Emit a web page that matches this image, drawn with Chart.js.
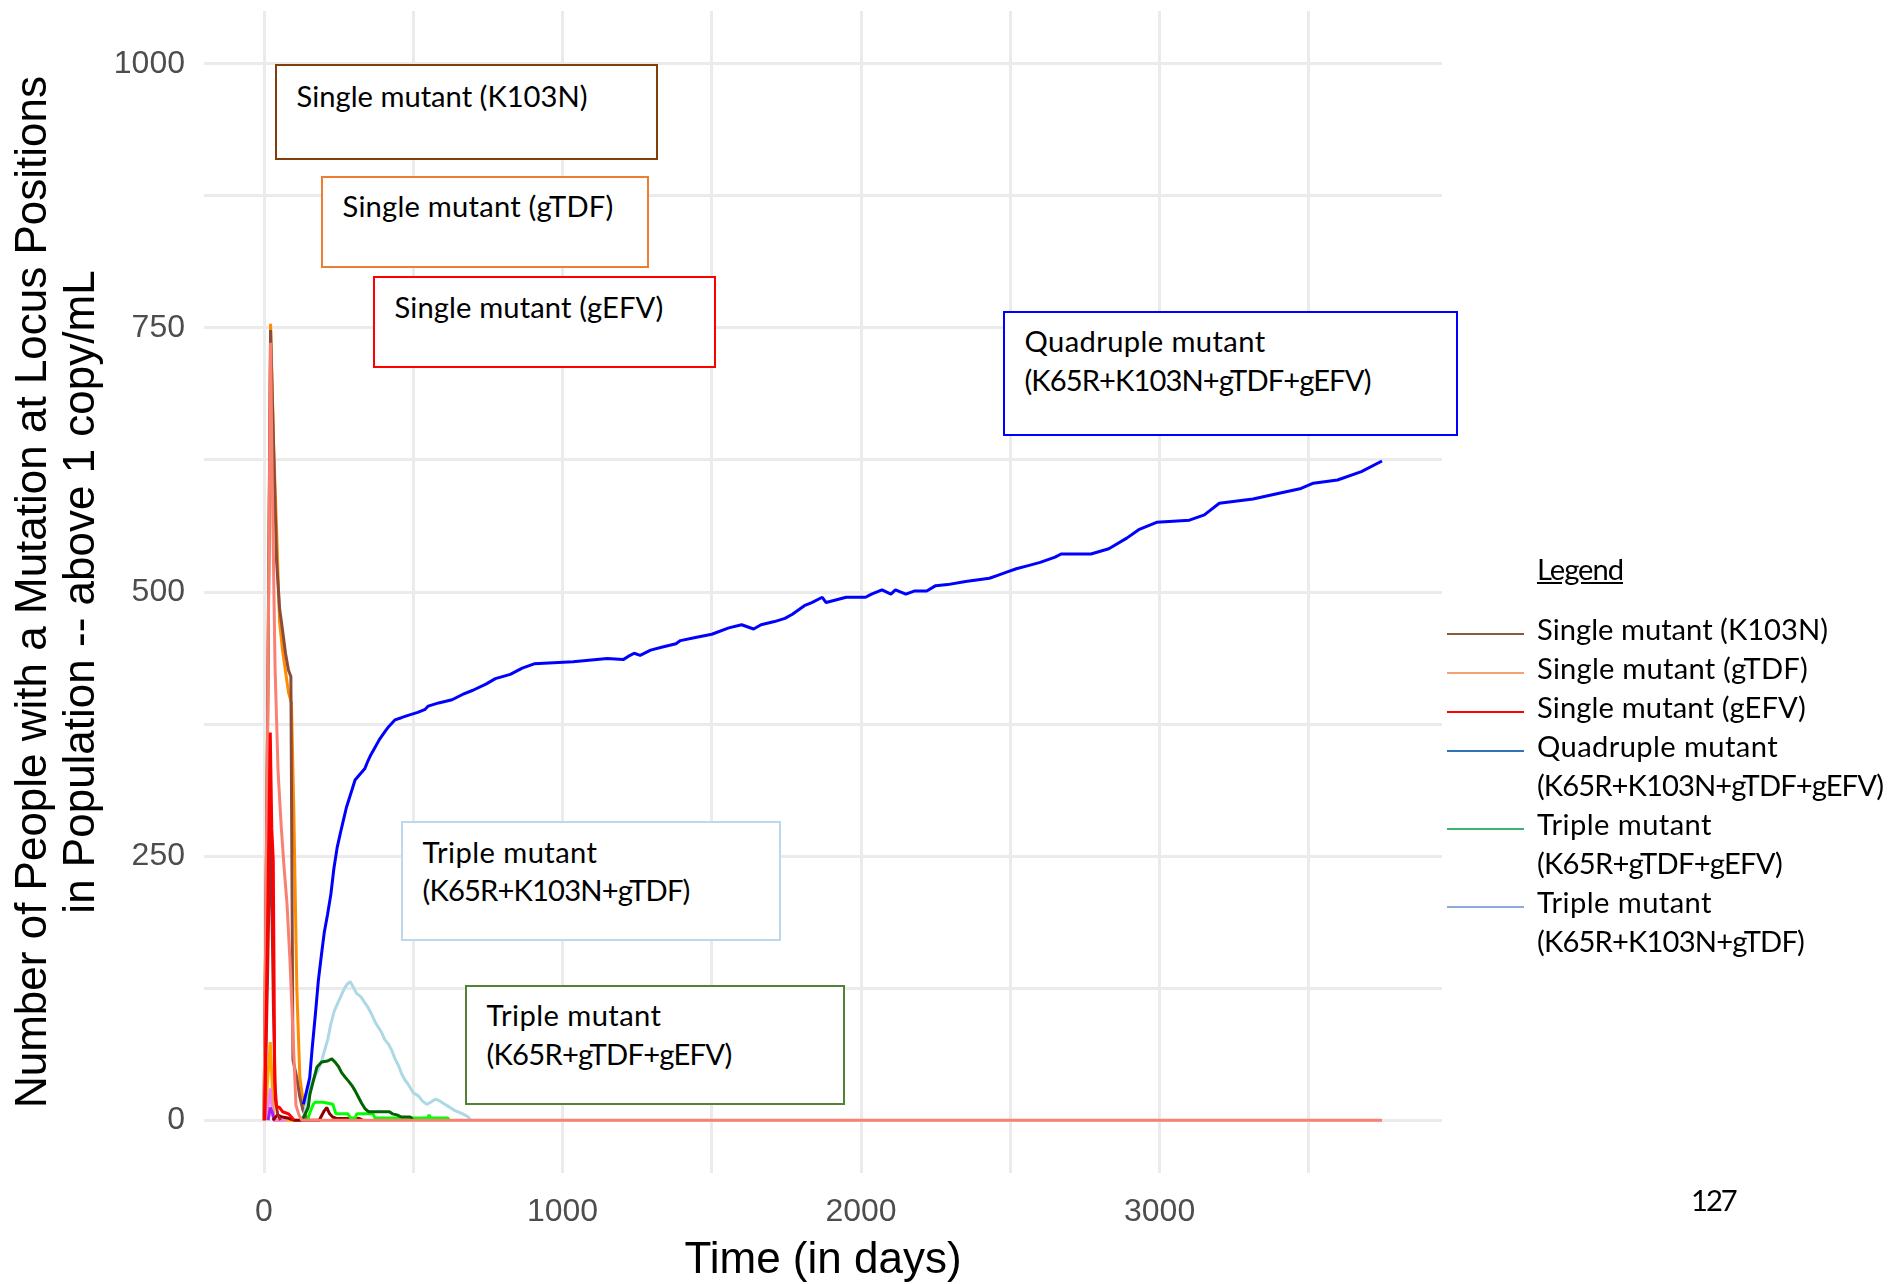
<!DOCTYPE html>
<html><head><meta charset="utf-8">
<script src="https://cdn.jsdelivr.net/npm/chart.js@4.4.1/dist/chart.umd.min.js"></script>
<style>
html,body{margin:0;padding:0;background:#fff;overflow:hidden;}
#wrap{position:relative;width:1889px;height:1284px;}
canvas{position:absolute;left:0;top:0;}
.box{position:absolute;box-sizing:border-box;background:#fff;border:2px solid #000;}
.txt{position:absolute;white-space:pre;color:#000;margin:0;padding:0;}
.swatch{position:absolute;height:2px;}
</style></head><body>
<div id="wrap"><canvas id="c" width="1889" height="1284"></canvas></div>
<script>
// ---------------- DATA ----------------
const xGridValues = [0, 500, 1000, 1500, 2000, 2500, 3000, 3500];
const xLabelValues = [0, 1000, 2000, 3000];
const yGridValues = [0, 125, 250, 375, 500, 625, 750, 875, 1000];
const yLabelValues = [0, 250, 500, 750, 1000];

const quadDays = [132,153,162,172,182,193,202,213,224,234,245,256,266,276,286,295,305,320,338,348,358,368,378,388,398,408,419,429,439,460,480,515,540,550,585,630,665,700,745,775,825,865,905,1035,1150,1203,1220,1240,1260,1295,1335,1380,1395,1445,1500,1557,1600,1640,1665,1710,1745,1770,1790,1810,1835,1870,1883,1950,2015,2035,2070,2100,2115,2150,2180,2220,2250,2290,2350,2430,2460,2490,2520,2560,2600,2650,2670,2770,2830,2890,2930,2990,3100,3150,3200,3313,3393,3474,3515,3596,3676,3745];
const quadCounts = [15,40,70,100,132,158,178,195,214,238,258,272,284,296,305,313,322,327,333,340,346,351,356,361,365,369,373,376,379,381,383,386,389,392,395,398,403,407,413,418,422,428,432,434,437,436,439,442,440,445,448,451,454,457,460,466,469,465,469,472,475,479,483,487,490,495,490,495,495,498,502,498,502,498,501,501,506,507,510,513,516,519,522,525,528,533,536,536,541,551,559,566,568,573,584,588,593,598,603,606,614,624];

const gefvDays = [2, 12, 21, 26, 31, 36, 42, 52, 62, 72, 82, 92, 100];
const gefvCounts = [0, 184, 367, 276, 246, 36, 13, 12, 8, 7, 6, 3, 0];

const firebrickDays = [2, 12, 21, 26, 32, 38, 46, 55];
const firebrickCounts = [0, 140, 276, 211, 100, 20, 5, 0];

const salmonDays = [0, 12, 22, 27, 37, 47, 57, 67, 77, 87, 97, 107, 117, 127, 3745];
const salmonCounts = [0, 368, 736, 617, 429, 331, 281, 240, 205, 151, 82, 14, 5, 0, 0];

const tripleTdfEfvDays = [128,148,154,165,177,193,213,227,238,249,260,271,283,294,305,316,327,338,350,420,430,445,460,490,500];
const tripleTdfEfvCounts = [0,12,25,37,50,55,56,58,55,51,45,41,37,33,28,22,16,11,8,8,6,5,3,3,0];

const tripleK103nDays = [128,134,154,182,193,204,214,223,235,246,257,268,279,289,299,310,324,338,350,361,372,383,394,405,417,428,439,450,461,472,483,500,517,531,545,558,575,590,612,640,666,684,692];
const tripleK103nCounts = [0,4,32,48,56,67,77,90,103,110,117,124,129,131,126,120,117,111,106,100,93,88,83,76,72,66,58,52,44,38,34,26,23,18,15,17,20,18,14,9,6,3,0];

const limeDays = [145,155,165,171,198,231,236,241,281,290,305,311,365,372,432,549,553,558,616,620];
const limeCounts = [0,8,15,17,17,15,10,6,6,2,2,6,6,2,2,2,5,2,2,0];

const darkredDays = [30, 45, 60, 80, 100, 185, 200, 210, 220, 230, 245, 320, 330];
const darkredCounts = [0, 5, 3, 2, 0, 0, 8, 12, 6, 3, 1.5, 1.5, 0];

const purpleDays = [14, 21, 27, 34];
const purpleCounts = [0, 12, 8, 0];

const violetDays = [8, 21, 26, 32, 75];
const violetCounts = [0, 30, 14, 0, 0];

const orangeDays = [2, 12, 21, 27, 33, 130];
const orangeCounts = [0, 37, 74, 36, 0, 0];

const k103nDays = [0, 12, 22, 32, 42, 52, 62, 72, 82, 90, 97, 110, 120, 130, 140, 150];
const k103nCounts = [0, 373, 748, 640, 530, 485, 464, 442, 426, 420, 57, 40, 22, 10, 3, 0];

const gtdfDays = [0, 12, 22, 32, 42, 52, 62, 72, 82, 92, 100, 110, 120, 130, 140, 150];
const gtdfCounts = [0, 378, 754, 640, 560, 472, 445, 425, 405, 395, 290, 124, 41, 20, 5, 0];

const boxTexts = [
  ['Single mutant (K103N)'],
  ['Single mutant (gTDF)'],
  ['Single mutant (gEFV)'],
  ['Quadruple mutant', '(K65R+K103N+gTDF+gEFV)'],
  ['Triple mutant', '(K65R+K103N+gTDF)'],
  ['Triple mutant', '(K65R+gTDF+gEFV)']
];
const legendTitle = 'Legend';
const legendLabels = [
  ['Single mutant (K103N)'],
  ['Single mutant (gTDF)'],
  ['Single mutant (gEFV)'],
  ['Quadruple mutant', '(K65R+K103N+gTDF+gEFV)'],
  ['Triple mutant', '(K65R+gTDF+gEFV)'],
  ['Triple mutant', '(K65R+K103N+gTDF)']
];
const pageNumber = '127';

// ---------------- CHART ----------------
function pts(xs, ys) { return xs.map((x, i) => ({x: x, y: ys[i]})); }
function ds(label, xs, ys, color) {
  return {label: label, data: pts(xs, ys), borderColor: color, backgroundColor: color,
    borderWidth: 3, pointRadius: 0, fill: false, tension: 0, borderJoinStyle: 'bevel'};
}
// index 0 is drawn on top
const datasets = [
  ds('Quadruple', quadDays, quadCounts, '#0000FF'),
  ds('gEFV', gefvDays, gefvCounts, '#FF0000'),
  ds('firebrick', firebrickDays, firebrickCounts, '#B22222'),
  ds('salmon', salmonDays, salmonCounts, '#FA8072'),
  ds('Triple K65R+gTDF+gEFV', tripleTdfEfvDays, tripleTdfEfvCounts, '#006400'),
  ds('Triple K65R+K103N+gTDF', tripleK103nDays, tripleK103nCounts, '#ADD8E6'),
  ds('lime', limeDays, limeCounts, '#00FF00'),
  ds('darkred', darkredDays, darkredCounts, '#8B0000'),
  ds('purple', purpleDays, purpleCounts, '#A020F0'),
  ds('violet', violetDays, violetCounts, '#EE82EE'),
  ds('orange', orangeDays, orangeCounts, '#FFA500'),
  ds('K103N', k103nDays, k103nCounts, '#8B4C39'),
  ds('gTDF', gtdfDays, gtdfCounts, '#FF8C00')
];

const axisFont = {family: "'Liberation Sans', Arial, sans-serif", size: 32};
const titleFamily = "'Liberation Sans', Arial, sans-serif";
new Chart(document.getElementById('c'), {
  type: 'line',
  data: {datasets: datasets},
  options: {
    responsive: false, animation: false, devicePixelRatio: 1,
    layout: {padding: {left: 0, right: 447, top: 11, bottom: 0}},
    plugins: {legend: {display: false}, tooltip: {enabled: false}},
    scales: {
      x: {
        type: 'linear', min: -201, max: 3946,
        afterBuildTicks: a => { a.ticks = xGridValues.map(v => ({value: v})); },
        afterFit: a => { a.height = 111; a.paddingLeft = 0; a.paddingRight = 0; },
        grid: {color: '#EBEBEB', lineWidth: 3, drawTicks: false},
        border: {display: false},
        ticks: {autoSkip: false, maxRotation: 0, padding: 20, color: '#4D4D4D', font: axisFont,
          callback: v => xLabelValues.includes(v) ? String(v) : ''},
        title: {display: true, text: 'Time (in days)', color: '#000',
          font: {family: titleFamily, size: 44, lineHeight: 1.05}, padding: {top: 0, bottom: 0}}
      },
      y: {
        type: 'linear', min: -50, max: 1050,
        afterBuildTicks: a => { a.ticks = yGridValues.map(v => ({value: v})); },
        afterFit: a => { a.width = 204; a.paddingTop = 0; a.paddingBottom = 0; },
        grid: {color: '#EBEBEB', lineWidth: 3, drawTicks: false},
        border: {display: false},
        ticks: {autoSkip: false, padding: 19, color: '#4D4D4D', font: axisFont,
          callback: v => yLabelValues.includes(v) ? String(v) : ''},
        title: {display: true,
          text: ['Number of People with a Mutation at Locus Positions', 'in Population -- above 1 copy/mL'],
          color: '#000', font: {family: titleFamily, size: 44, lineHeight: 48 / 44}, padding: {top: 10, bottom: 0}}
      }
    }
  }
});

// ---------------- OVERLAY TEXT (annotation boxes + legend) ----------------
const wrap = document.getElementById('wrap');
const fam = "Lato, 'Open Sans', sans-serif";
const mc = document.createElement('canvas').getContext('2d');
mc.font = '100px ' + fam;
const S = 100 * 291 / mc.measureText('Single mutant (K103N)').width;
mc.font = S + 'px ' + fam;
const mm = mc.measureText('Hg');
const ASC = mm.fontBoundingBoxAscent, DESC = mm.fontBoundingBoxDescent;
// widths of the strings as measured in the reference (layout only)
const targetWidths = {
  'Single mutant (K103N)': 291, 'Single mutant (gTDF)': 271, 'Single mutant (gEFV)': 269,
  '(K65R+K103N+gTDF+gEFV)': 346, 'Quadruple mutant': 241, 'Triple mutant': 175,
  '(K65R+K103N+gTDF)': 267, '(K65R+gTDF+gEFV)': 245, 'Legend': 86, '127': 44
};

function putText(str, x, baseline, extra) {
  const d = document.createElement('div');
  d.className = 'txt';
  d.textContent = str;
  d.style.font = S + 'px ' + fam;
  d.style.lineHeight = (ASC + DESC) + 'px';
  d.style.left = x + 'px';
  d.style.top = (baseline - ASC) + 'px';
  const tw = targetWidths[str];
  if (tw) {
    const nat = mc.measureText(str).width;
    const ls = (tw - nat) / str.length;
    d.style.letterSpacing = Math.max(-2, Math.min(2, ls)) + 'px';
  }
  if (extra) Object.assign(d.style, extra);
  wrap.appendChild(d);
}

const boxLayout = [
  {l: 275, t: 64, w: 383, h: 96, c: '#843C0C', b: 106.5},
  {l: 321, t: 176, w: 328, h: 92, c: '#ED7D31', b: 217},
  {l: 373, t: 276, w: 343, h: 92, c: '#FF0000', b: 317.5},
  {l: 1003, t: 311, w: 455, h: 125, c: '#0000FF', b: 352},
  {l: 401, t: 821, w: 380, h: 120, c: '#BDD7EE', b: 862.5},
  {l: 465, t: 985, w: 380, h: 120, c: '#548235', b: 1026}
];
const lineStep = 38.8;
boxLayout.forEach((bx, i) => {
  const d = document.createElement('div');
  d.className = 'box';
  Object.assign(d.style, {left: bx.l + 'px', top: bx.t + 'px', width: bx.w + 'px', height: bx.h + 'px', borderColor: bx.c});
  wrap.appendChild(d);
  boxTexts[i].forEach((s, j) => putText(s, bx.l + 21.5, bx.b + j * lineStep));
});

// legend
const legendColors = ['#8B5A3C', '#F2A36E', '#FF0000', '#2E75B6', '#3CB371', '#8EA9DB'];
const legendX = 1537, swatchX = 1447, swatchW = 77;
putText(legendTitle, legendX, 580, {textDecoration: 'underline'});
let bl = 640;
legendLabels.forEach((lines, i) => {
  const sw = document.createElement('div');
  sw.className = 'swatch';
  Object.assign(sw.style, {left: swatchX + 'px', top: (bl - 7.5) + 'px', width: swatchW + 'px', background: legendColors[i]});
  wrap.appendChild(sw);
  lines.forEach(s => { putText(s, legendX, bl); bl += 39; });
});

putText(pageNumber, 1691, 1211);
</script></body></html>
